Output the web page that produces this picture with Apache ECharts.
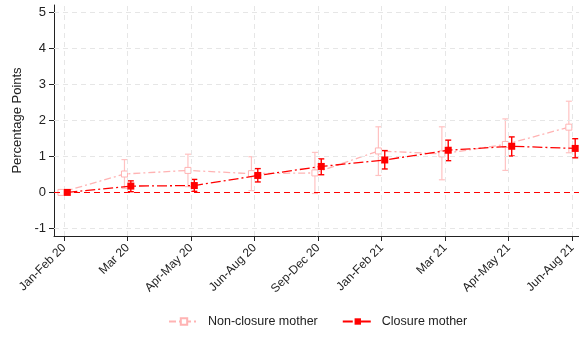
<!DOCTYPE html>
<html>
<head>
<meta charset="utf-8">
<script src="https://cdn.jsdelivr.net/npm/echarts@6/dist/echarts.min.js"></script>
<style>
  html, body { margin: 0; padding: 0; background: #fff; }
  #chart { width: 579px; height: 337px; }
</style>
</head>
<body>
<div id="chart"></div>
<script>
// Survey periods on the horizontal axis
const categories = ['Jan-Feb 20', 'Mar 20', 'Apr-May 20', 'Jun-Aug 20', 'Sep-Dec 20',
                    'Jan-Feb 21', 'Mar 21', 'Apr-May 21', 'Jun-Aug 21'];

// Non-closure mothers: point estimate and 95% interval
const nonClosure   = [0, 0.51, 0.61, 0.52, 0.54, 1.15, 1.07, 1.33, 1.81];
const nonClosureLo = [0, 0.11, 0.16, 0.05, -0.03, 0.47, 0.35, 0.61, 1.10];
const nonClosureHi = [0, 0.91, 1.06, 0.99, 1.11, 1.82, 1.82, 2.04, 2.53];

// Closure mothers: point estimate and 95% interval
const closure   = [0, 0.175, 0.19, 0.47, 0.72, 0.90, 1.17, 1.28, 1.22];
const closureLo = [0, 0.02, 0.03, 0.29, 0.49, 0.65, 0.88, 1.01, 0.96];
const closureHi = [0, 0.32, 0.36, 0.66, 0.93, 1.16, 1.45, 1.54, 1.49];

// Axis ticks
const yTicks = [-1, 0, 1, 2, 3, 4, 5];
const xTicks = categories.map((_, i) => i);

const RED = '#ff0000';
const PINK = '#ffb3b3';
const PINK_BAR = '#ffc2c2';
const SHIFT = 0.05; // horizontal dodge between the two groups

const toPoints = (vals, dx) => vals.map((v, i) => [i + dx, v]);
const toBars = (lo, hi, dx) => lo.map((l, i) => [i + dx, l, hi[i]]);

function errorBar(color, width, capHalf) {
  return function (params, api) {
    const x = api.value(0), lo = api.value(1), hi = api.value(2);
    if (lo === hi) return null;
    const pLo = api.coord([x, lo]);
    const pHi = api.coord([x, hi]);
    const st = { stroke: color, lineWidth: width };
    return {
      type: 'group',
      children: [
        { type: 'line', shape: { x1: pLo[0], y1: pLo[1], x2: pHi[0], y2: pHi[1] }, style: st },
        { type: 'line', shape: { x1: pLo[0] - capHalf, y1: pLo[1], x2: pLo[0] + capHalf, y2: pLo[1] }, style: st },
        { type: 'line', shape: { x1: pHi[0] - capHalf, y1: pHi[1], x2: pHi[0] + capHalf, y2: pHi[1] }, style: st }
      ]
    };
  };
}

const chart = echarts.init(document.getElementById('chart'), null, { renderer: 'canvas' });

const gridLineStyle = { color: '#e6e6e6', type: [5, 4], width: 1 };

chart.setOption({
  animation: false,
  textStyle: { fontFamily: 'Liberation Sans, Arial, sans-serif' },
  grid: { left: 54, right: 0, top: 5, bottom: 101 },
  legend: {
    bottom: 4,
    left: 163,
    itemWidth: 30,
    itemHeight: 8,
    itemGap: 24,
    textStyle: { fontSize: 12.5, color: '#222', padding: [0, 0, 0, 4] },
    data: ['Non-closure mother', 'Closure mother']
  },
  xAxis: {
    type: 'value',
    min: -0.16,
    max: 8.11,
    axisLine: { show: true, onZero: false, lineStyle: { color: '#222', width: 1 } },
    axisTick: { show: true, length: 5, customValues: xTicks, lineStyle: { color: '#222' } },
    axisLabel: {
      customValues: xTicks,
      rotate: 45,
      margin: 10,
      fontSize: 12,
      color: '#222',
      formatter: v => categories[Math.round(v)]
    },
    splitLine: { show: false }
  },
  yAxis: {
    type: 'value',
    min: -1.21,
    max: 5.2,
    name: 'Percentage Points',
    nameLocation: 'middle',
    nameGap: 29,
    nameTextStyle: { fontSize: 13, color: '#222' },
    axisLine: { show: true, onZero: false, lineStyle: { color: '#222', width: 1 } },
    axisTick: { show: true, length: 5, customValues: yTicks, lineStyle: { color: '#222' } },
    axisLabel: { customValues: yTicks, margin: 8, fontSize: 13, color: '#222' },
    splitLine: { show: false }
  },
  series: [
    {
      // reference grid and zero line
      type: 'line',
      data: [],
      silent: true,
      markLine: {
        silent: true,
        symbol: 'none',
        label: { show: false },
        lineStyle: gridLineStyle,
        data: yTicks.filter(v => v !== 0).map(v => ({ yAxis: v }))
          .concat(xTicks.map(v => ({ xAxis: v })))
          .concat([{ yAxis: 0, lineStyle: { color: RED, type: [6, 4], width: 1.2 } }])
      },
      z: 1
    },
    {
      name: 'Non-closure CI',
      type: 'custom',
      renderItem: errorBar(PINK_BAR, 1.2, 3),
      data: toBars(nonClosureLo, nonClosureHi, -SHIFT),
      encode: { x: 0, y: [1, 2] },
      z: 2
    },
    {
      name: 'Non-closure mother',
      type: 'line',
      data: toPoints(nonClosure, -SHIFT),
      symbol: 'rect',
      symbolSize: 6,
      itemStyle: { color: '#fff', borderColor: PINK, borderWidth: 1 },
      lineStyle: { color: PINK, width: 1.3, type: [7, 3, 2, 3] },
      color: PINK,
      z: 3
    },
    {
      name: 'Closure CI',
      type: 'custom',
      renderItem: errorBar(RED, 1.4, 3),
      data: toBars(closureLo, closureHi, SHIFT),
      encode: { x: 0, y: [1, 2] },
      z: 4
    },
    {
      name: 'Closure mother',
      type: 'line',
      data: toPoints(closure, SHIFT),
      symbol: 'rect',
      symbolSize: 7,
      itemStyle: { color: RED, borderColor: RED, borderWidth: 0 },
      lineStyle: { color: RED, width: 1.3, type: [10, 3, 2, 3] },
      color: RED,
      z: 5
    }
  ]
});
</script>
</body>
</html>
